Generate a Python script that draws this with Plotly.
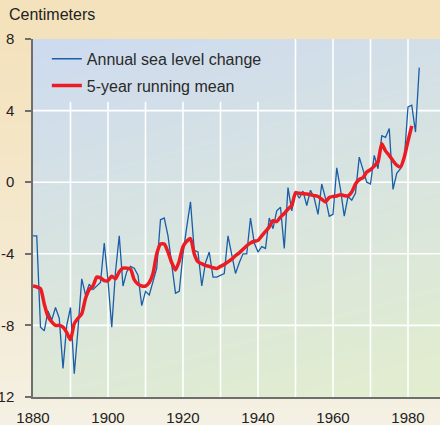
import zlib, struct, base64
import numpy as np
import plotly.graph_objects as go

# ---------------- data ----------------
years = list(range(1880, 1984))
annual_change = [
    -3.0, -3.0, -8.1, -8.3, -7.2, -7.7, -7.0, -7.6, -10.4, -8.0,
    -7.0, -10.7, -8.2, -5.4, -6.3, -5.7, -6.0, -5.8, -5.6, -3.4,
    -5.5, -8.1, -5.0, -3.0, -5.8, -5.0, -4.7, -4.8, -5.2, -6.9,
    -6.1, -6.3, -5.6, -4.8, -2.1, -2.0, -3.0, -4.5, -6.2, -6.1,
    -4.0, -2.5, -1.1, -3.8, -3.9, -5.8, -4.5, -3.9, -5.3, -5.3,
    -5.2, -5.1, -3.0, -4.0, -5.1, -4.5, -4.0, -4.0, -2.0, -3.4,
    -3.9, -3.6, -3.7, -2.0, -2.6, -1.6, -1.4, -3.7, -0.3, -1.6,
    -0.5, -0.9, -0.5, -1.3, -0.45, -0.9, -1.8, -0.1, -0.9, -1.9,
    -1.8, 0.8, -0.4, -1.9, -0.8, -1.0, -0.6, 1.4, 0.65, 0.0,
    -0.1, 1.5, 0.75, 2.6, 2.5, 3.0, -0.4, 0.5, 0.75, 1.3,
    4.2, 4.3, 2.8, 6.4,
]
mean_years = list(range(1880, 1982))
running_mean = [
    -5.8, -5.85, -5.95, -6.8, -7.5, -7.8, -8.0, -8.0, -8.1, -8.4,
    -8.8, -7.9, -7.6, -7.35, -6.5, -6.0, -5.8, -5.3, -5.35, -5.5,
    -5.5, -5.25, -5.4, -5.0, -4.8, -4.8, -4.85, -5.45, -5.7, -5.8,
    -5.8, -5.6, -5.1, -4.0, -3.45, -3.45, -3.9, -4.5, -4.9, -4.4,
    -3.6, -3.3, -3.15, -4.0, -4.45, -4.55, -4.65, -4.7, -4.78, -4.82,
    -4.7, -4.6, -4.45, -4.3, -4.1, -3.95, -3.75, -3.55, -3.4, -3.3,
    -3.25, -3.0, -2.75, -2.5, -2.15, -2.2, -1.95, -1.75, -1.5, -1.3,
    -0.6, -0.62, -0.64, -0.66, -0.7, -0.75, -0.8, -0.95, -1.1, -0.85,
    -0.8, -0.77, -0.7, -0.75, -0.77, -0.55, -0.1, 0.15, 0.25, 0.57,
    0.7, 0.9, 1.15, 2.15, 1.75, 1.5, 1.2, 0.95, 0.85, 1.4,
    2.3, 3.15,
]
x_tick_vals = [1880, 1900, 1920, 1940, 1960, 1980]
x_tick_text = ["1880", "1900", "1920", "1940", "1960", "1980"]
y_tick_vals = [-12, -8, -4, 0, 4, 8]
y_tick_text = ["-12", "-8", "-4", "0", "4", "8"]

# ---------------- background images ----------------
def png_uri(arr):
    arr = np.clip(arr, 0, 255).astype(np.uint8)
    h, w, _ = arr.shape
    raw = b"".join(b"\x00" + arr[r].tobytes() for r in range(h))
    def chunk(t, d):
        return struct.pack(">I", len(d)) + t + d + struct.pack(">I", zlib.crc32(t + d) & 0xFFFFFFFF)
    png = (b"\x89PNG\r\n\x1a\n"
           + chunk(b"IHDR", struct.pack(">IIBBBBB", w, h, 8, 2, 0, 0, 0))
           + chunk(b"IDAT", zlib.compress(raw, 9))
           + chunk(b"IEND", b""))
    return "data:image/png;base64," + base64.b64encode(png).decode()

W, H = 440, 425
ML, MR, MT, MB = 33, 0, 39, 28
PW, PH = W - ML - MR, H - MT - MB

# paper gradient (vertical)
t = (np.linspace(0, 1, H) ** 1.3)[:, None, None]
top_c = np.array([245, 226, 188], float)
bot_c = np.array([244, 241, 228], float)
paper_img = (top_c + (bot_c - top_c) * t) * np.ones((H, 2, 1))

# plot-area gradient (diagonal)
yy, xx = np.mgrid[0:PH, 0:PW]
tt = np.clip(0.8 * yy / PH + 0.25 * xx / PW, 0, 1)[:, :, None]
p_top = np.array([206, 219, 240], float)
p_bot = np.array([226, 237, 208], float)
plot_img = p_top + (p_bot - p_top) * tt

fig = go.Figure()
fig.add_trace(go.Scatter(
    x=years, y=annual_change, mode="lines", name="Annual sea level change",
    line=dict(color="#1a5ea8", width=1.3), legendgroup="a"))
fig.add_trace(go.Scatter(
    x=mean_years, y=running_mean, mode="lines", name="5-year running mean",
    line=dict(color="#ec1c24", width=3.5, shape="spline", smoothing=0.6), legendgroup="b"))

shapes = []
for yr in range(1890, 1990, 10):
    shapes.append(dict(type="line", xref="x", yref="y", x0=yr, x1=yr, y0=-12,
                       y1=4.5 if yr <= 1940 else 8, layer="below",
                       line=dict(color="white", width=1.6)))
for v in [-8, -4, 0, 4]:
    shapes.append(dict(type="line", xref="paper", yref="y", x0=0, x1=1, y0=v, y1=v,
                       layer="below", line=dict(color="white", width=1.6)))

fig.update_layout(
    width=W, height=H,
    margin=dict(l=ML, r=MR, t=MT, b=MB, pad=0),
    paper_bgcolor="#f4ead2",
    plot_bgcolor="rgba(0,0,0,0)",
    font=dict(family="Liberation Sans, Arial, sans-serif", size=15, color="#222222"),
    showlegend=True,
    legend=dict(x=0.034, y=0.992, xanchor="left", yanchor="top",
                bgcolor="rgba(0,0,0,0)", font=dict(size=16, color="#2a2a2a"),
                tracegroupgap=3, borderwidth=0),
    shapes=shapes,
    images=[
        dict(source=png_uri(paper_img), xref="paper", yref="paper",
             x=-ML / PW, y=1 + MT / PH, sizex=W / PW, sizey=H / PH,
             xanchor="left", yanchor="top", sizing="stretch", layer="below"),
        dict(source=png_uri(plot_img), xref="paper", yref="paper",
             x=0, y=1, sizex=1, sizey=1,
             xanchor="left", yanchor="top", sizing="stretch", layer="below"),
    ],
    annotations=[dict(text="Centimeters", xref="paper", yref="paper",
                      x=(7 - ML) / PW, y=1 + (39 - 14) / PH, xanchor="left", yanchor="middle",
                      showarrow=False, font=dict(size=16, color="#222222"))],
)
fig.update_xaxes(range=[1880, 1880 + PW / 3.75], showgrid=False, zeroline=False,
                 showline=True, linecolor="#6e6e6e", linewidth=1.5,
                 tickvals=x_tick_vals, ticktext=x_tick_text, ticks="",
                 ticklabelstandoff=6, automargin=False)
fig.update_yaxes(range=[-12, 8], showgrid=False, zeroline=False,
                 showline=True, linecolor="#6e6e6e", linewidth=1.5,
                 tickvals=y_tick_vals, ticktext=y_tick_text, ticks="outside",
                 ticklen=6, tickwidth=1.5, tickcolor="#6e6e6e",
                 ticklabelstandoff=8, automargin=False)

fig.write_html("out.html", config={"displayModeBar": False},
               post_script="document.body.style.margin='0';document.body.style.overflow='hidden';")
